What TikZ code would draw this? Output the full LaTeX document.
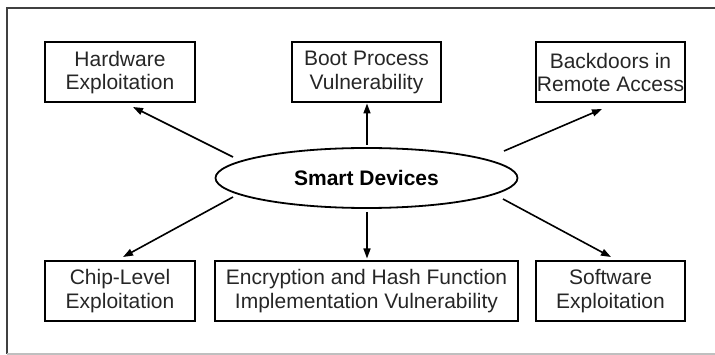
\documentclass[tikz,border=0pt]{standalone}
\usepackage{fontspec}
\setmainfont{Liberation Sans}
\usetikzlibrary{arrows.meta,shapes.geometric}
\begin{document}
\begin{tikzpicture}[x=1pt,y=-1pt,
  box/.style={draw=black,line width=2pt,minimum height=60pt,inner sep=0pt,align=center,
    font=\fontsize{21}{23.5}\selectfont,text=black!85},
  conn/.style={line width=1.6pt,-{Triangle[length=10pt,width=7pt]}},
  frameline/.style={line width=1.2pt}]
\useasboundingbox (0,0) rectangle (715,355);
% frame
\draw[frameline,draw=black!75] (7,354) -- (7,8) -- (716,8);
\draw[frameline,draw=black!25] (7,354) -- (716,354);
% nodes
\node[box,minimum width=150pt] (hw) at (120,72.5) {Hardware\\Exploitation};
\node[box,minimum width=149pt] (boot) at (366.5,72.5) {Boot Process\\Vulnerability};
\node[box,minimum width=149pt] (back) at (610.5,72.5) {Backdoors in\\Remote Access};
\node[box,minimum width=150pt] (chip) at (120,291) {Chip-Level\\Exploitation};
\node[box,minimum width=303pt] (enc) at (366.5,291) {Encryption and Hash Function\\Implementation Vulnerability};
\node[box,minimum width=149pt] (soft) at (610.5,291) {Software\\Exploitation};
\node[ellipse,draw=black,line width=1.8pt,minimum width=302pt,minimum height=60pt,inner sep=0pt,
  font=\bfseries\fontsize{21}{23}\selectfont] (ell) at (366.5,178) {Smart Devices};
% connector end points
\coordinate (a1) at (233,157); \coordinate (b1) at (133,107);
\coordinate (a2) at (367,145); \coordinate (b2) at (367,103.5);
\coordinate (a3) at (504,151); \coordinate (b3) at (602,109);
\coordinate (a4) at (233,197); \coordinate (b4) at (123,257);
\coordinate (a5) at (367,212); \coordinate (b5) at (367,258.5);
\coordinate (a6) at (503,199); \coordinate (b6) at (611,257);
\draw[conn] (a1) -- (b1);
\draw[conn] (a2) -- (b2);
\draw[conn] (a3) -- (b3);
\draw[conn] (a4) -- (b4);
\draw[conn] (a5) -- (b5);
\draw[conn] (a6) -- (b6);
\end{tikzpicture}
\end{document}
